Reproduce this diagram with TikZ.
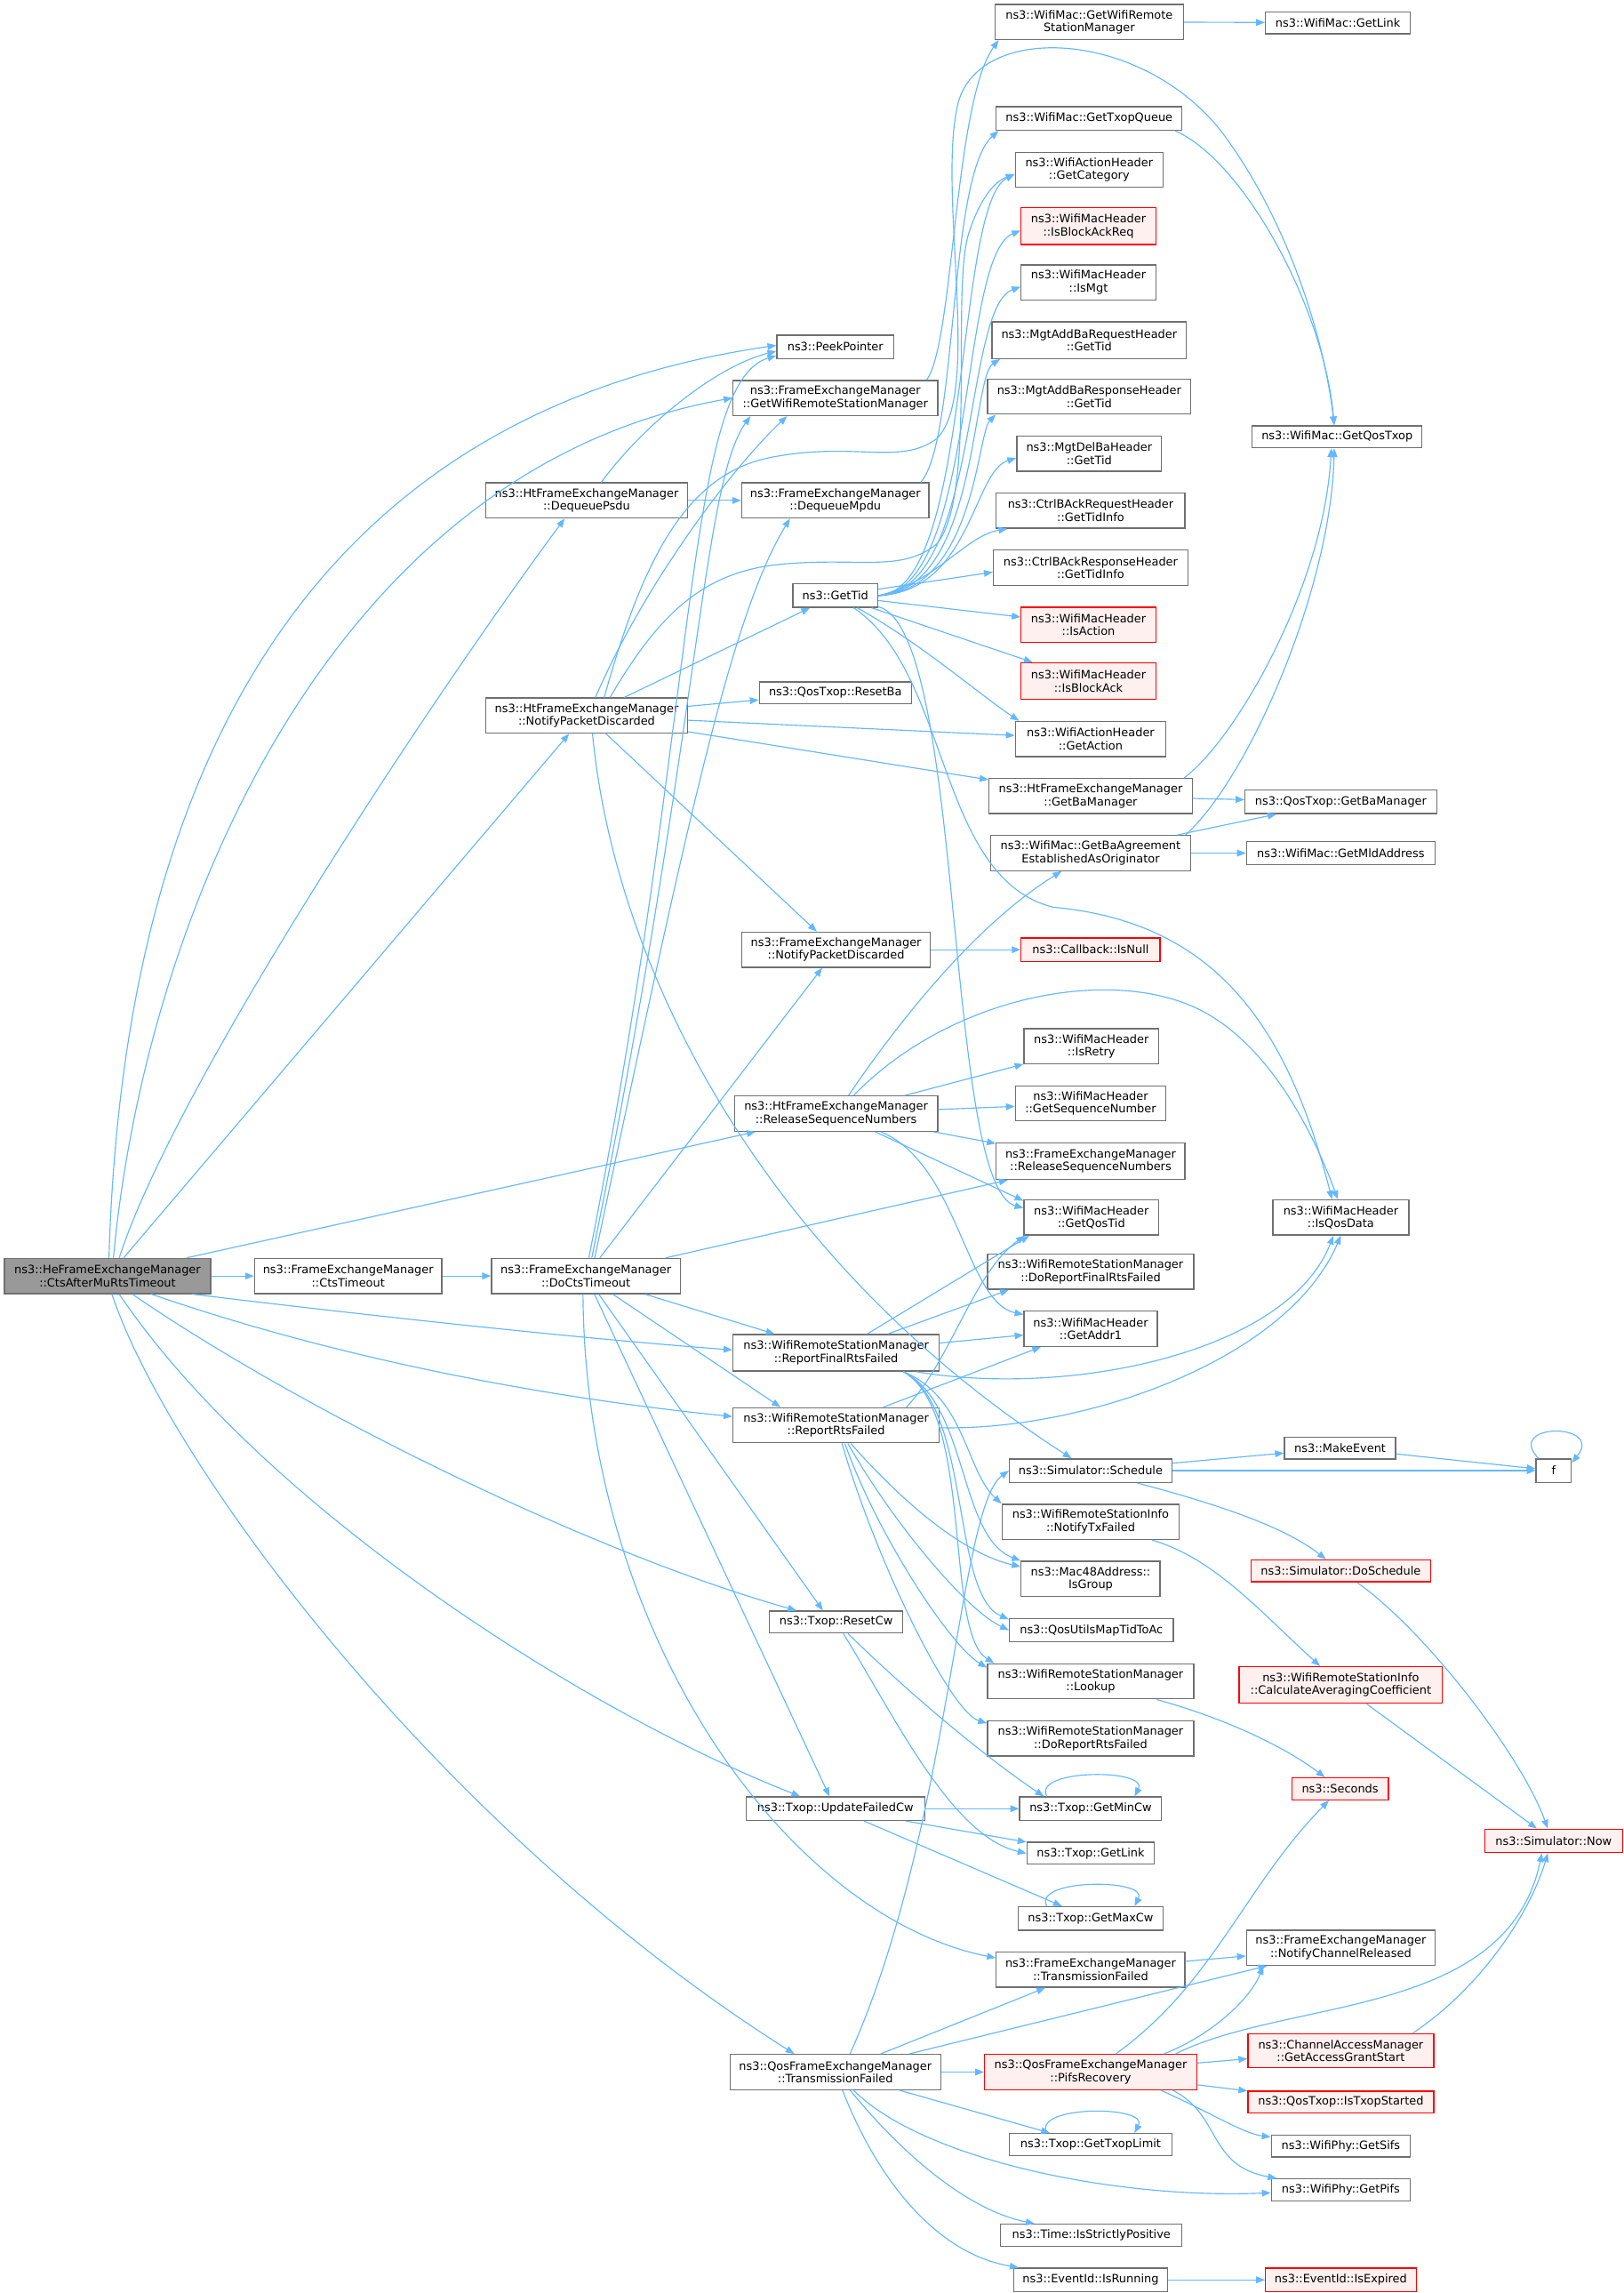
\documentclass[tikz,border=0pt]{standalone}
\usepackage{fontspec}
\newfontfamily\dv{DejaVu Sans}
\usetikzlibrary{arrows.meta}
\definecolor{edgec}{HTML}{63B8FF}
\definecolor{bord}{HTML}{707070}
\definecolor{redfill}{HTML}{FFF0F0}
\definecolor{rootfill}{HTML}{999999}
\tikzset{
  nd/.style={draw=bord, fill=white, line width=0.8pt, inner sep=0pt, align=center,
    font=\dv\fontsize{7.85}{8.8}\selectfont, text=black},
  rnd/.style={nd, draw=red, fill=redfill},
  rootnd/.style={nd, fill=rootfill, draw=bord},
  e/.style={draw=edgec, line width=0.7pt, -{Triangle[length=6pt,width=4.6pt]}},
}
\newcommand\mk[7][nd]{\node[#1,minimum width={(#4)-(#3)},minimum height={(#6)-(#5)}] (#2) at ({((#3)+(#4))/2},{-((#5)+(#6))/2}) {#7};}
\newcommand\sloop[1]{\draw[e] ([xshift=-30pt]#1.north) .. controls ([xshift=-40pt,yshift=19pt]#1.north) and ([xshift=40pt,yshift=19pt]#1.north) .. ([xshift=30pt]#1.north);}
\begin{document}
\begin{tikzpicture}[x=1pt,y=1pt]
\fill[white] (0,0) rectangle (1110,-1567);
\useasboundingbox (0,0) rectangle (1110,-1567);
% left / middle
\mk[rootnd]{A}{3}{144}{860}{884}{ns3::HeFrameExchangeManager\\::CtsAfterMuRtsTimeout}
\mk{CT}{174}{302}{860}{884}{ns3::FrameExchangeManager\\::CtsTimeout}
\mk{D}{336}{465}{860}{884}{ns3::FrameExchangeManager\\::DoCtsTimeout}
\mk{DP}{332}{470}{330}{354}{ns3::HtFrameExchangeManager\\::DequeuePsdu}
\mk{N}{332}{470}{477}{501}{ns3::HtFrameExchangeManager\\::NotifyPacketDiscarded}
\mk{PP}{531}{611}{229}{245}{ns3::PeekPointer}
\mk{G}{501}{641}{260}{284}{ns3::FrameExchangeManager\\::GetWifiRemoteStationManager}
\mk{DM}{507}{635}{330}{354}{ns3::FrameExchangeManager\\::DequeueMpdu}
\mk{GT}{542}{600}{399}{415}{ns3::GetTid}
\mk{RB}{519}{623}{466}{481}{ns3::QosTxop::ResetBa}
\mk{FN}{507}{636}{637}{661}{ns3::FrameExchangeManager\\::NotifyPacketDiscarded}
\mk{R}{502}{641}{749}{773}{ns3::HtFrameExchangeManager\\::ReleaseSequenceNumbers}
\mk{F}{501}{642}{912}{937}{ns3::WifiRemoteStationManager\\::ReportFinalRtsFailed}
\mk{RR}{501}{642}{962}{986}{ns3::WifiRemoteStationManager\\::ReportRtsFailed}
\mk{RC}{526}{617}{1101}{1116}{ns3::Txop::ResetCw}
\mk{UF}{510}{632}{1228}{1244}{ns3::Txop::UpdateFailedCw}
\mk{Q}{499}{643}{1404}{1428}{ns3::QosFrameExchangeManager\\::TransmissionFailed}
% right column
\mk{WGWRSM}{680}{809}{3}{27}{ns3::WifiMac::GetWifiRemote\\StationManager}
\mk{GTQ}{681}{808}{73}{89}{ns3::WifiMac::GetTxopQueue}
\mk{GCat}{694}{795}{104}{128}{ns3::WifiActionHeader\\::GetCategory}
\mk[rnd]{IBAR}{698}{790}{142}{167}{ns3::WifiMacHeader\\::IsBlockAckReq}
\mk{IMgt}{698}{790}{181}{205}{ns3::WifiMacHeader\\::IsMgt}
\mk{MAReq}{678}{811}{220}{245}{ns3::MgtAddBaRequestHeader\\::GetTid}
\mk{MAResp}{675}{814}{259}{283}{ns3::MgtAddBaResponseHeader\\::GetTid}
\mk{MDel}{695}{794}{298}{322}{ns3::MgtDelBaHeader\\::GetTid}
\mk{CReq}{681}{810}{337}{361}{ns3::CtrlBAckRequestHeader\\::GetTidInfo}
\mk{CResp}{679}{812}{376}{400}{ns3::CtrlBAckResponseHeader\\::GetTidInfo}
\mk[rnd]{IAct}{698}{790}{415}{439}{ns3::WifiMacHeader\\::IsAction}
\mk[rnd]{IBA}{698}{790}{453}{478}{ns3::WifiMacHeader\\::IsBlockAck}
\mk{GAct}{694}{797}{493}{517}{ns3::WifiActionHeader\\::GetAction}
\mk{HGBM}{676}{815}{532}{556}{ns3::HtFrameExchangeManager\\::GetBaManager}
\mk{GBAO}{677}{814}{571}{595}{ns3::WifiMac::GetBaAgreement\\EstablishedAsOriginator}
\mk[rnd]{INull}{698}{793}{641}{657}{ns3::Callback::IsNull}
\mk{IRetry}{700}{792}{703}{727}{ns3::WifiMacHeader\\::IsRetry}
\mk{GSeq}{694}{797}{742}{766}{ns3::WifiMacHeader\\::GetSequenceNumber}
\mk{FRS}{681}{810}{781}{806}{ns3::FrameExchangeManager\\::ReleaseSequenceNumbers}
\mk{GQT}{700}{792}{820}{844}{ns3::WifiMacHeader\\::GetQosTid}
\mk{DRFF}{675}{816}{857}{881}{ns3::WifiRemoteStationManager\\::DoReportFinalRtsFailed}
\mk{GA1}{700}{791}{896}{920}{ns3::WifiMacHeader\\::GetAddr1}
\mk{SCH}{690}{801}{997}{1013}{ns3::Simulator::Schedule}
\mk{NTF}{685}{806}{1028}{1052}{ns3::WifiRemoteStationInfo\\::NotifyTxFailed}
\mk{IG}{698}{793}{1067}{1091}{ns3::Mac48Address::\\IsGroup}
\mk{QMap}{690}{802}{1106}{1122}{ns3::QosUtilsMapTidToAc}
\mk{LK}{675}{816}{1137}{1161}{ns3::WifiRemoteStationManager\\::Lookup}
\mk{DRRF}{675}{816}{1176}{1200}{ns3::WifiRemoteStationManager\\::DoReportRtsFailed}
\mk{GMin}{697}{794}{1228}{1244}{ns3::Txop::GetMinCw}
\mk{TGL}{702}{789}{1259}{1274}{ns3::Txop::GetLink}
\mk{GMax}{696}{795}{1303}{1319}{ns3::Txop::GetMaxCw}
\mk{FTF}{681}{810}{1334}{1358}{ns3::FrameExchangeManager\\::TransmissionFailed}
\mk[rnd]{PR}{673}{818}{1404}{1428}{ns3::QosFrameExchangeManager\\::PifsRecovery}
\mk{GTL}{690}{801}{1458}{1473}{ns3::Txop::GetTxopLimit}
\mk{ISP}{684}{808}{1520}{1535}{ns3::Time::IsStrictlyPositive}
\mk{IR}{693}{798}{1550}{1566}{ns3::EventId::IsRunning}
% far right
\mk{WGL}{865}{964}{8}{23}{ns3::WifiMac::GetLink}
\mk{GQTx}{856}{972}{291}{306}{ns3::WifiMac::GetQosTxop}
\mk{QGBM}{851}{982}{540}{556}{ns3::QosTxop::GetBaManager}
\mk{GMld}{852}{981}{575}{591}{ns3::WifiMac::GetMldAddress}
\mk{IQD}{870}{963}{820}{844}{ns3::WifiMacHeader\\::IsQosData}
\mk{ME}{878}{954}{982}{997}{ns3::MakeEvent}
\mk[rnd]{DS}{855}{978}{1066}{1081}{ns3::Simulator::DoSchedule}
\mk[rnd]{CAC}{847}{986}{1139}{1164}{ns3::WifiRemoteStationInfo\\::CalculateAveragingCoefficient}
\mk[rnd]{SEC}{883}{949}{1215}{1230}{ns3::Seconds}
\mk{NCR}{852}{981}{1319}{1343}{ns3::FrameExchangeManager\\::NotifyChannelReleased}
\mk[rnd]{GAGS}{853}{980}{1390}{1413}{ns3::ChannelAccessManager\\::GetAccessGrantStart}
\mk[rnd]{ITS}{853}{980}{1429}{1444}{ns3::QosTxop::IsTxopStarted}
\mk{GSifs}{869}{964}{1459}{1474}{ns3::WifiPhy::GetSifs}
\mk{GPifs}{869}{964}{1489}{1504}{ns3::WifiPhy::GetPifs}
\mk[rnd]{IE}{865}{968}{1550}{1566}{ns3::EventId::IsExpired}
\mk{f}{1050}{1074}{997}{1013}{f}
\mk[rnd]{SNow}{1015}{1109}{1250}{1266}{ns3::Simulator::Now}
% ---- edges from A
\draw[e] ([xshift=1]A.north) .. controls (85,-500) and (230,-280) .. ([yshift=1]PP.west);
\draw[e] ([xshift=4]A.north) .. controls (100,-620) and (230,-320) .. (G.west);
\draw[e] ([xshift=8]A.north) .. controls (120,-740) and (300,-470) .. ([xshift=-15]DP.south);
\draw[e] ([xshift=11]A.north) -- ([xshift=-12]N.south);
\draw[e] ([xshift=54]A.north) -- ([xshift=-55]R.south);
\draw[e] (A) -- (CT);
\draw[e] ([xshift=58]A.south) .. controls (260,-900) and (400,-915) .. ([yshift=2]F.west);
\draw[e] ([xshift=30]A.south) .. controls (250,-935) and (400,-958) .. ([yshift=6]RR.west);
\draw[e] ([xshift=17]A.south) .. controls (200,-960) and (400,-1060) .. ([xshift=-27]RC.north);
\draw[e] ([xshift=8]A.south) .. controls (180,-1030) and (400,-1170) .. ([xshift=-24]UF.north);
\draw[e] ([xshift=3]A.south) .. controls (115,-1000) and (300,-1250) .. ([xshift=-28]Q.north);
\draw[e] (CT) -- (D);
% ---- edges from D
\draw[e] ([xshift=2]D.north) .. controls (478,-480) and (468,-262) .. ([yshift=-6]PP.west);
\draw[e] ([xshift=4]D.north) .. controls (478,-500) and (480,-330) .. ([xshift=-58]G.south);
\draw[e] ([xshift=6]D.north) .. controls (470,-560) and (500,-420) .. ([xshift=-31]DM.south);
\draw[e] (D) -- (FN);
\draw[e] (D) -- (FRS);
\draw[e] (D) -- (F);
\draw[e] (D) -- ([xshift=-38]RR.north);
\draw[e] (D) -- ([xshift=-9]RC.north);
\draw[e] (D) -- ([xshift=-4]UF.north);
\draw[e] ([xshift=-2]D.south) .. controls (400,-1120) and (540,-1310) .. ([yshift=8]FTF.west);
% ---- DP
\draw[e] ([xshift=10]DP.north) .. controls (440,-290) and (490,-250) .. ([yshift=-3]PP.west);
\draw[e] (DP) -- (DM);
% ---- N
\draw[e] ([xshift=6]N.north) .. controls (440,-400) and (500,-320) .. ([xshift=-33]G.south);
\draw[e] ([xshift=12]N.north) .. controls (440,-380) and (470,-322) .. (530,-312) .. controls (585,-302) and (615,-318) .. (640,-300) .. controls (672,-270) and (640,-130) .. (655,-70) .. controls (670,-15) and (780,-20) .. (835,-90) .. controls (880,-150) and (905,-230) .. ([xshift=-2]GQTx.north);
\draw[e] ([xshift=16]N.north) .. controls (450,-420) and (480,-392) .. (530,-386) .. controls (585,-380) and (615,-392) .. (640,-372) .. controls (668,-340) and (650,-200) .. (662,-160) .. controls (670,-135) and (680,-124) .. ([yshift=-3]GCat.west);
\draw[e] (N) -- (GT);
\draw[e] (N) -- (RB);
\draw[e] (N) -- (GAct);
\draw[e] (N) -- (HGBM);
\draw[e] (N) -- (FN);
\draw[e] ([xshift=4]N.south) .. controls (420,-660) and (520,-860) .. (SCH);
% ---- G, DM
\draw[e] ([xshift=-8]G.north east) .. controls (652,-235) and (652,-70) .. ([xshift=3]WGWRSM.south west);
\draw[e] ([xshift=-6]DM.north east) .. controls (655,-300) and (648,-120) .. ([xshift=2]GTQ.south west);
% ---- GetTid fan
\draw[e] (GT.east) .. controls (665,-404) and (652,-140) .. ([yshift=-3]GCat.west);
\draw[e] (GT.east) .. controls (668,-404) and (655,-175) .. ([yshift=-3]IBAR.west);
\draw[e] (GT.east) .. controls (670,-404) and (658,-210) .. ([yshift=-3]IMgt.west);
\draw[e] (GT.east) .. controls (668,-404) and (664,-258) .. ([xshift=6]MAReq.south west);
\draw[e] (GT.east) .. controls (666,-404) and (668,-296) .. ([xshift=6]MAResp.south west);
\draw[e] (GT.east) .. controls (664,-404) and (665,-322) .. ([yshift=-3]MDel.west);
\draw[e] (GT.east) .. controls (640,-398) and (660,-366) .. ([xshift=8]CReq.south west);
\draw[e] (GT) -- ([yshift=-3]CResp.west);
\draw[e] (GT) -- (IAct);
\draw[e] (GT) -- (IBA);
\draw[e] (GT) .. controls (630,-440) and (670,-475) .. ([xshift=3]GAct.north west);
\draw[e] (GT) .. controls (660,-430) and (645,-810) .. ([yshift=-6]GQT.north west);
\draw[e] (GT) .. controls (650,-460) and (640,-600) .. (720,-620) .. controls (830,-630) and (880,-700) .. ([xshift=-6]IQD.north);
% ---- R
\draw[e] (R) .. controls (620,-690) and (670,-630) .. (GBAO);
\draw[e] (R) .. controls (650,-680) and (760,-660) .. (820,-690) .. controls (870,-715) and (900,-780) .. ([xshift=-2]IQD.north);
\draw[e] (R) -- (IRetry);
\draw[e] (R) -- (GSeq);
\draw[e] (R) -- (FRS);
\draw[e] (R) -- ([yshift=-1]GQT.north west);
\draw[e] (R) .. controls (655,-795) and (660,-890) .. (GA1);
\draw[e] (FN) -- (INull);
% ---- HGBM, GBAO, GTQ, WGWRSM
\draw[e] (HGBM) -- (QGBM);
\draw[e] ([xshift=-6]HGBM.north east) .. controls (845,-505) and (905,-400) .. ([xshift=-4]GQTx.south);
\draw[e] ([xshift=-4]GBAO.north east) .. controls (855,-530) and (910,-400) .. ([xshift=-2]GQTx.south);
\draw[e] (GBAO) -- ([xshift=-44]QGBM.south);
\draw[e] (GBAO) -- (GMld);
\draw[e] ([xshift=-5]GTQ.south east) .. controls (850,-110) and (905,-210) .. ([xshift=-2]GQTx.north);
\draw[e] (WGWRSM) -- (WGL);
% ---- F
\draw[e] (F) -- ([xshift=4]GQT.south west);
\draw[e] (F) -- ([xshift=15]DRFF.south west);
\draw[e] (F) -- (GA1);
\draw[e] ([xshift=-16]F.south east) .. controls (730,-955) and (880,-925) .. ([xshift=-5]IQD.south);
\draw[e] ([xshift=46]F.south) .. controls (660,-955) and (660,-1005) .. (NTF.north west);
\draw[e] ([xshift=46]F.south) .. controls (662,-960) and (655,-1050) .. (IG.north west);
\draw[e] ([xshift=46]F.south) .. controls (664,-962) and (650,-1090) .. ([yshift=-1]QMap.north west);
\draw[e] ([xshift=46]F.south) .. controls (666,-965) and (645,-1115) .. ([xshift=5]LK.north west);
% ---- RR
\draw[e] (RR) -- ([xshift=12]GA1.south west);
\draw[e] ([xshift=48]RR.north) .. controls (650,-930) and (665,-870) .. ([xshift=1]GQT.south west);
\draw[e] (RR) .. controls (740,-978) and (880,-930) .. (IQD.south);
\draw[e] ([xshift=10]RR.south) .. controls (620,-1030) and (660,-1062) .. ([yshift=-4]IG.north west);
\draw[e] ([xshift=8]RR.south) .. controls (610,-1040) and (660,-1100) .. (QMap.west);
\draw[e] ([xshift=6]RR.south) .. controls (600,-1050) and (650,-1125) .. ([yshift=-3]LK.north west);
\draw[e] ([xshift=4]RR.south) .. controls (600,-1070) and (650,-1170) .. ([yshift=-2]DRRF.north west);
% ---- NTF, CAC, DS, LK
\draw[e] (NTF) .. controls (830,-1065) and (860,-1100) .. (CAC);
\draw[e] (CAC) -- (SNow);
\draw[e] (DS) .. controls (975,-1115) and (1040,-1200) .. ([xshift=-4]SNow.north);
\draw[e] (LK) .. controls (840,-1175) and (880,-1195) .. (SEC);
% ---- SCH
\draw[e] (SCH) -- (ME);
\draw[e] (SCH) -- (f);
\draw[e] (SCH) .. controls (840,-1030) and (880,-1045) .. (DS);
\draw[e] (ME) -- (f);
\draw[e] ([xshift=2pt]f.north west) .. controls (1028,-972) and (1097,-972) .. ([yshift=-3pt]f.north east);
% ---- RC, UF
\draw[e] (RC) .. controls (640,-1175) and (690,-1212) .. ([xshift=17]GMin.north west);
\draw[e] (RC) .. controls (610,-1170) and (650,-1255) .. (TGL.west);
\draw[e] (UF) -- (GMin);
\draw[e] (UF) -- (TGL);
\draw[e] (UF) -- (GMax);
\sloop{GMin}
\sloop{GMax}
\sloop{GTL}
% ---- FTF
\draw[e] (FTF) -- (NCR);
% ---- Q
\draw[e] (Q) -- (FTF);
\draw[e] (Q) -- (NCR);
\draw[e] (Q) -- (PR);
\draw[e] (Q) -- (GTL);
\draw[e] (Q) .. controls (630,-1475) and (760,-1503) .. (GPifs);
\draw[e] (Q) .. controls (615,-1470) and (660,-1510) .. (ISP);
\draw[e] (Q) .. controls (600,-1490) and (640,-1540) .. (IR);
\draw[e] ([xshift=10]Q.north) .. controls (650,-1250) and (655,-1030) .. (SCH.west);
% ---- PR
\draw[e] (PR) .. controls (830,-1355) and (850,-1290) .. (SEC);
\draw[e] ([xshift=50]PR.north) .. controls (830,-1390) and (855,-1365) .. ([xshift=12]NCR.south west);
\draw[e] ([xshift=58]PR.north) .. controls (880,-1365) and (1030,-1380) .. ([xshift=-8]SNow.south);
\draw[e] (PR) -- (GAGS);
\draw[e] (PR) -- (ITS);
\draw[e] ([xshift=48]PR.south) .. controls (830,-1445) and (850,-1458) .. (GSifs);
\draw[e] ([xshift=56]PR.south) .. controls (835,-1445) and (825,-1480) .. (GPifs);
\draw[e] ([xshift=-15]GAGS.north east) .. controls (1010,-1360) and (1045,-1310) .. ([xshift=-4]SNow.south);
\draw[e] (IR) -- (IE);
\end{tikzpicture}
\end{document}
